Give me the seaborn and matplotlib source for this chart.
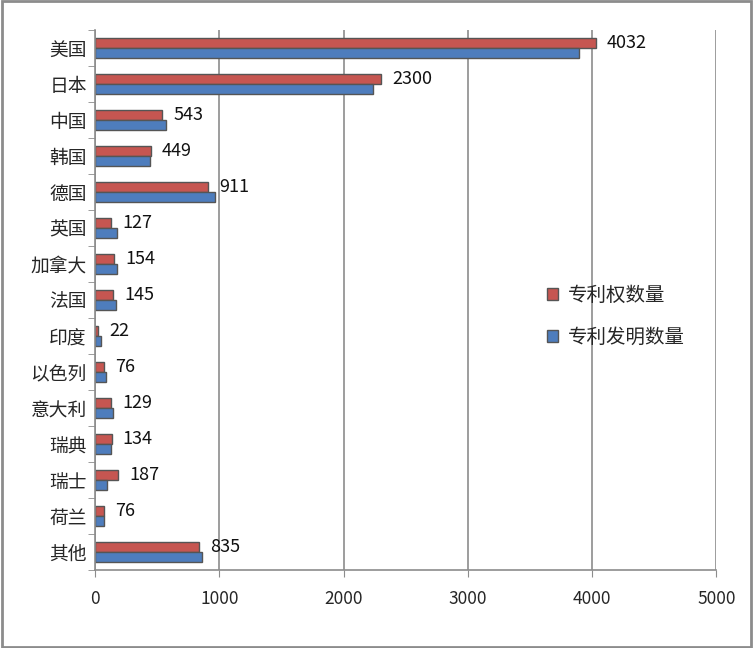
import matplotlib.pyplot as plt
import pandas as pd
import seaborn as sns
from matplotlib.ticker import FixedLocator

countries = ['美国', '日本', '中国', '韩国', '德国', '英国', '加拿大', '法国',
             '印度', '以色列', '意大利', '瑞典', '瑞士', '荷兰', '其他']
grants = [4032, 2300, 543, 449, 911, 127, 154, 145, 22, 76, 129, 134, 187, 76, 835]
inventions = [3895, 2240, 575, 440, 965, 176, 178, 165, 48, 88, 146, 125, 100, 72, 860]
series = ['专利权数量', '专利发明数量']

df = pd.DataFrame({
    'country': countries * 2,
    'value': grants + inventions,
    'series': [series[0]] * len(countries) + [series[1]] * len(countries),
})

sns.set_style('white')
plt.rcParams['font.family'] = ['Noto Sans CJK SC', 'DejaVu Sans']

fig = plt.figure(figsize=(7.53, 6.48), dpi=100)
ax = fig.add_axes([0.1262, 0.120, 0.825, 0.834])

sns.barplot(data=df, y='country', x='value', hue='series', orient='h',
            palette=['#D9443E', '#3B7BCF'], width=0.56, gap=0,
            linewidth=1, edgecolor='#555555', ax=ax, legend=True)

# value labels only for the red series
ax.bar_label(ax.containers[0], labels=[str(v) for v in grants],
             padding=8, fontsize=13, color='#111111')

ax.set_xlim(0, 5000)
ax.set_xticks([0, 1000, 2000, 3000, 4000, 5000])
ax.set_xlabel('')
ax.set_ylabel('')
ax.xaxis.grid(True, color='#8c8c8c', linewidth=1.2)
ax.set_axisbelow(True)

for s in ['top', 'right']:
    ax.spines[s].set_visible(False)
for s in ['left', 'bottom']:
    ax.spines[s].set_color('#8c8c8c')
    ax.spines[s].set_linewidth(1.2)

ax.tick_params(axis='x', which='major', length=5, color='#8c8c8c',
               labelsize=12.5, pad=9, bottom=True)
ax.tick_params(axis='y', which='major', length=0, labelsize=13.5, pad=6)
ax.yaxis.set_minor_locator(FixedLocator([i - 0.5 for i in range(len(countries) + 1)]))
ax.tick_params(axis='y', which='minor', length=5, color='#8c8c8c', left=True)

leg = ax.legend(loc='center left', bbox_to_anchor=(0.70, 0.47), frameon=False,
                fontsize=14, handlelength=0.55, handleheight=0.55,
                labelspacing=1.1, handletextpad=0.5)

# outer frame
fig.patches.append(plt.Rectangle((0.002, 0.002), 0.996, 0.996, transform=fig.transFigure,
                                 fill=False, edgecolor='#8c8c8c', linewidth=2))

fig.savefig('out.png', dpi=100)
